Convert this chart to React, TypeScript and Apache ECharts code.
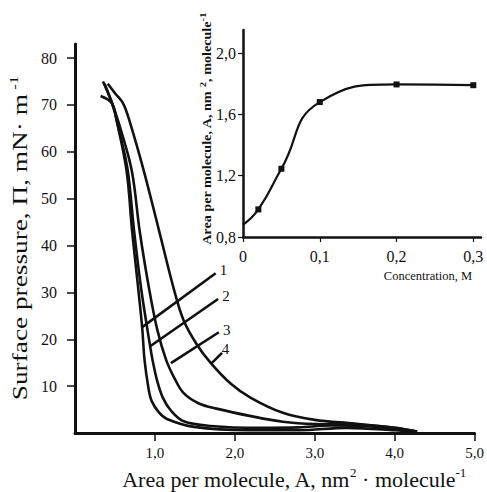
import React, { useEffect, useRef } from "react";
import * as echarts from "echarts";

// Main chart: surface pressure isotherms (A in nm²/molecule, Π in mN/m)
const curve1: number[][] = [
  [0.32, 71.9], [0.46, 70.4], [0.52, 66.7], [0.645, 56], [0.715, 43], [0.78, 32.6],
  [0.84, 22.6], [0.87, 15.6], [0.92, 9.5], [0.96, 6.8], [1.05, 4.4], [1.15, 3.0],
  [1.49, 1.3], [2.17, 0.6], [2.8, 0.6], [3.4, 1.1], [4.0, 0.6], [4.28, 0.2],
];
const curve2: number[][] = [
  [0.37, 74.5], [0.48, 69.5], [0.56, 64], [0.66, 56], [0.74, 43], [0.83, 30.5],
  [0.94, 18.5], [0.97, 15.6], [1.03, 11], [1.1, 7.5], [1.2, 4.8], [1.36, 2.5],
  [1.7, 1.5], [2.3, 1.1], [2.8, 1.2], [3.2, 1.6], [3.7, 1.4], [4.28, 0.3],
];
const curve3: number[][] = [
  [0.35, 75], [0.45, 71], [0.55, 66], [0.71, 56], [0.81, 43], [0.93, 30.5],
  [1.03, 22], [1.14, 15.6], [1.25, 11.5], [1.36, 8.5], [1.55, 6.3], [1.77, 5.2],
  [2.2, 3.6], [2.6, 2.4], [3.0, 1.9], [3.5, 1.8], [4.0, 1.1], [4.28, 0.3],
];
const curve4: number[][] = [
  [0.41, 74.5], [0.5, 72.5], [0.6, 70.4], [0.68, 66.7], [0.86, 56], [1.05, 43.3],
  [1.24, 30.5], [1.36, 24], [1.52, 19], [1.7, 14.9], [1.95, 10.5], [2.2, 7.5],
  [2.6, 4.3], [3.0, 2.8], [3.5, 2.0], [4.0, 1.1], [4.28, 0.3],
];
const curveNames = ["1", "2", "3", "4"];
// pointer lines for curve labels: [start, end]
const pointers: number[][][] = [
  [[0.84, 22.6], [1.76, 34.1]],
  [[0.94, 18.5], [1.79, 28.6]],
  [[1.2, 14.9], [1.8, 21.5]],
  [[1.71, 14.9], [1.84, 17.1]],
];
const mainXTicks = [1, 2, 3, 4, 5];
const mainYTicks = [10, 20, 30, 40, 50, 60, 70, 80];

// Inset: area per molecule vs concentration
const insetConc = [0, 0.02, 0.05, 0.1, 0.2, 0.3];
const insetArea = [0.88, 0.98, 1.245, 1.68, 1.795, 1.79];
const insetXTicks = [0, 0.1, 0.2, 0.3];
const insetYTicks = [0.8, 1.2, 1.6, 2.0];

const SERIF = "'Liberation Serif', 'Times New Roman', serif";
const INK = "#111111";

const comma = (v: number) => v.toFixed(1).replace(".", ",");

export default function App() {
  const ref = useRef<HTMLDivElement>(null);
  useEffect(() => {
    if (!ref.current) return;
    const chart = echarts.init(ref.current, null, { renderer: "svg" });
    const curves = [curve1, curve2, curve3, curve4];
    const series: any[] = curves.map((c, i) => ({
      type: "line",
      xAxisIndex: 0,
      yAxisIndex: 0,
      data: c,
      color: INK,
      smooth: 0.35,
      showSymbol: false,
      symbol: "none",
      lineStyle: { color: INK, width: 2.6 },
      markLine: {
        silent: true,
        symbol: "none",
        itemStyle: { color: INK },
        lineStyle: { color: INK, width: 2.6, type: "solid" },
        label: {
          show: true,
          position: "end",
          formatter: curveNames[i],
          color: INK,
          fontFamily: SERIF,
          fontSize: 15,
          distance: 5,
        },
        data: [[{ coord: pointers[i][0] }, { coord: pointers[i][1] }]],
      },
    }));
    series.push({
      type: "line",
      xAxisIndex: 1,
      yAxisIndex: 1,
      color: INK,
      data: insetConc.map((x, i) =>
        i === 0 ? { value: [x, insetArea[i]], symbol: "none" } : [x, insetArea[i]]
      ),
      smooth: 0.5,
      symbol: "rect",
      symbolSize: 6,
      showSymbol: true,
      itemStyle: { color: INK },
      lineStyle: { color: INK, width: 2.2 },
    });

    const titleRich = (size: number, sup: number, bold = false) => ({
      a: { fontFamily: SERIF, fontSize: size, fontWeight: bold ? "bold" : "normal", lineHeight: size + 5, color: INK },
      s: { fontFamily: SERIF, fontSize: sup, fontWeight: bold ? "bold" : "normal", lineHeight: size + 5, verticalAlign: "top", color: INK },
    });

    const option: any = {
      animation: false,
      backgroundColor: "#ffffff",
      grid: [
        { left: 75, top: 44, width: 403, height: 389 },
        { left: 243, top: 30, width: 238, height: 207 },
      ],
      xAxis: [
        {
          type: "value",
          gridIndex: 0,
          min: 0,
          max: 5,
          interval: 1,
          splitLine: { show: false },
          axisLine: { lineStyle: { color: INK, width: 3 } },
          axisTick: { show: true, length: 8, lineStyle: { color: INK, width: 1.5 }, customValues: mainXTicks },
          axisLabel: {
            customValues: mainXTicks,
            formatter: (v: number) => comma(v),
            color: INK,
            fontFamily: SERIF,
            fontSize: 15,
            margin: 12,
          },
        },
        {
          type: "value",
          gridIndex: 1,
          min: 0,
          max: 0.31,
          interval: 0.1,
          splitLine: { show: false },
          axisLine: { lineStyle: { color: INK, width: 2.5 } },
          axisTick: { show: true, length: 5, lineStyle: { color: INK, width: 1.2 }, customValues: insetXTicks },
          axisLabel: {
            customValues: insetXTicks,
            formatter: (v: number) => (v === 0 ? "0" : comma(v)),
            color: INK,
            fontFamily: SERIF,
            fontSize: 16,
            margin: 11,
          },
        },
      ],
      yAxis: [
        {
          type: "value",
          gridIndex: 0,
          min: 0,
          max: 83,
          interval: 10,
          splitLine: { show: false },
          axisLine: { lineStyle: { color: INK, width: 3 } },
          axisTick: { show: true, length: 8, lineStyle: { color: INK, width: 1.5 }, customValues: mainYTicks },
          axisLabel: {
            customValues: mainYTicks,
            formatter: (v: number) => String(v),
            color: INK,
            fontFamily: SERIF,
            fontSize: 16,
            margin: 18,
          },
        },
        {
          type: "value",
          gridIndex: 1,
          min: 0.8,
          max: 2.15,
          interval: 0.4,
          splitLine: { show: false },
          axisLine: { lineStyle: { color: INK, width: 2.5 } },
          axisTick: { show: true, length: 5, lineStyle: { color: INK, width: 1.2 }, customValues: insetYTicks },
          axisLabel: {
            customValues: insetYTicks,
            formatter: (v: number) => comma(v),
            color: INK,
            fontFamily: SERIF,
            fontSize: 16,
            margin: 7,
          },
        },
      ],
      graphic: [
        {
          type: "text",
          x: 20,
          y: 238,
          rotation: Math.PI / 2,
          scaleX: 1.3,
          style: {
            text: "{a|Surface pressure, Π, mN· m}{s| -1}",
            align: "center",
            verticalAlign: "middle",
            textAlign: "center",
            textVerticalAlign: "middle",
            fill: INK,
            rich: titleRich(21, 13),
          },
        },
        {
          type: "text",
          x: 294,
          y: 479,
          style: {
            text: "{a|Area per molecule, A, nm}{s|2}{a| · molecule}{s|-1}",
            align: "center",
            verticalAlign: "middle",
            textAlign: "center",
            textVerticalAlign: "middle",
            fill: INK,
            rich: titleRich(22, 13),
          },
        },
        {
          type: "text",
          x: 207,
          y: 129,
          rotation: Math.PI / 2,
          scaleX: 1.18,
          style: {
            text: "{a|Area per molecule, A, nm }{s|2}{a|, molecule}{s|-1}",
            align: "center",
            verticalAlign: "middle",
            textAlign: "center",
            textVerticalAlign: "middle",
            fill: INK,
            rich: titleRich(12, 9, true),
          },
        },
        {
          type: "text",
          x: 472,
          y: 276,
          style: {
            text: "Concentration, M",
            align: "right",
            verticalAlign: "middle",
            textAlign: "right",
            textVerticalAlign: "middle",
            fill: INK,
            fontFamily: SERIF,
            fontSize: 12.5,
          },
        },
      ],
      series,
    };
    chart.setOption(option);
    return () => chart.dispose();
  }, []);
  return (
    <div
      ref={ref}
      style={{ position: "fixed", left: 0, top: 0, width: 487, height: 492, background: "#fff" }}
    />
  );
}
